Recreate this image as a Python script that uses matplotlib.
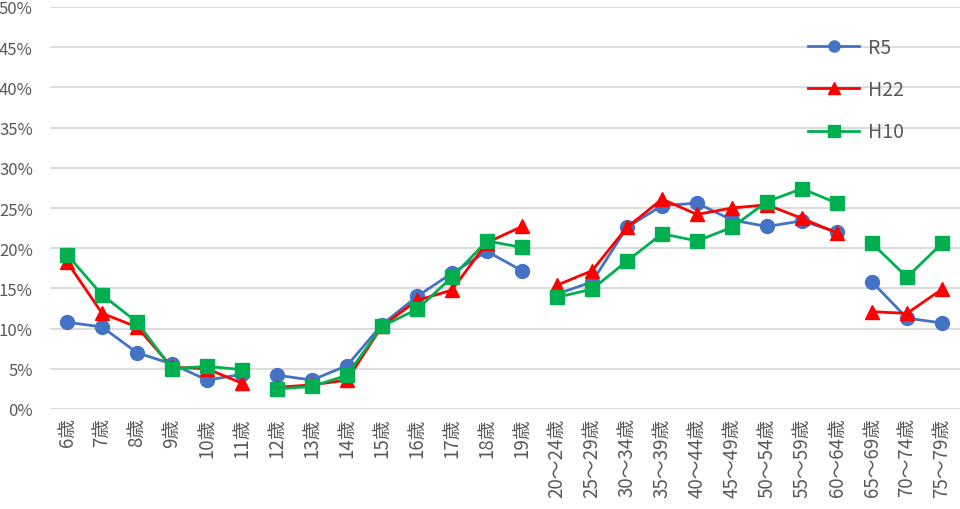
import numpy as np
import matplotlib
matplotlib.use('Agg')
import matplotlib.pyplot as plt
from matplotlib.ticker import FuncFormatter

plt.rcParams['font.family'] = ['Noto Sans CJK JP', 'DejaVu Sans']

# age categories
ages = ['6歳', '7歳', '8歳', '9歳', '10歳', '11歳', '12歳', '13歳', '14歳',
        '15歳', '16歳', '17歳', '18歳', '19歳',
        '20～24歳', '25～29歳', '30～34歳', '35～39歳', '40～44歳', '45～49歳',
        '50～54歳', '55～59歳', '60～64歳', '65～69歳', '70～74歳', '75～79歳']

# values in percent
r5 = [10.8, 10.2, 7.0, 5.6, 3.6, 4.3,
      4.2, 3.6, 5.4, 10.5, 14.0, 16.9, 19.6, 17.2,
      14.3, 15.8, 22.6, 25.3, 25.6, 23.5, 22.7, 23.4, 22.0,
      15.8, 11.3, 10.7]
h22 = [18.3, 11.9, 10.2, 5.2, 5.0, 3.2,
       2.7, 3.0, 3.6, 10.3, 13.5, 14.8, 20.7, 22.7,
       15.4, 17.2, 22.6, 26.1, 24.2, 25.0, 25.4, 23.7, 21.9,
       12.1, 11.9, 14.9]
h10 = [19.2, 14.2, 10.8, 5.0, 5.3, 4.9,
       2.5, 2.8, 4.2, 10.3, 12.4, 16.4, 20.9, 20.1,
       13.9, 14.9, 18.4, 21.8, 20.9, 22.6, 25.8, 27.4, 25.6,
       20.6, 16.4, 20.6]

# lines are broken between these groups
groups = [(0, 6), (6, 14), (14, 23), (23, 26)]

series = [('R5', r5, '#4472C4', 'o'),
          ('H22', h22, '#FF0000', '^'),
          ('H10', h10, '#00B050', 's')]

fig = plt.figure(figsize=(9.6, 5.1), dpi=100)
ax = fig.add_axes([0.0516, 100 / 510, 0.9479, 402 / 510])

x = np.arange(len(ages))
for name, vals, col, mk in series:
    v = np.array(vals)
    for i, (a, b) in enumerate(groups):
        ax.plot(x[a:b], v[a:b], color=col, marker=mk, markersize=10,
                linewidth=2, label=name if i == 0 else None, zorder=3)

ax.set_xlim(-0.5, len(ages) - 0.5)
ax.set_ylim(0, 50)
ax.set_yticks(np.arange(0, 51, 5))
ax.yaxis.set_major_formatter(FuncFormatter(lambda v, p: '%d%%' % v))
ax.set_xticks(x)
ax.set_xticklabels(ages, rotation=90)
ax.tick_params(length=0, colors='#595959')
ax.tick_params(axis='y', pad=12, labelsize=12)
ax.tick_params(axis='x', pad=6, labelsize=13.5)
ax.grid(axis='y', color='#D9D9D9', linewidth=1.3)
ax.set_axisbelow(True)
for s in ax.spines.values():
    s.set_visible(False)

leg = ax.legend(loc='upper right', bbox_to_anchor=(0.958, 0.97), frameon=False,
                fontsize=14, handlelength=2.6, labelspacing=1.1,
                handletextpad=0.45, markerscale=0.8)
for t in leg.get_texts():
    t.set_color('#595959')

fig.savefig('out.png', dpi=100, facecolor='white')
